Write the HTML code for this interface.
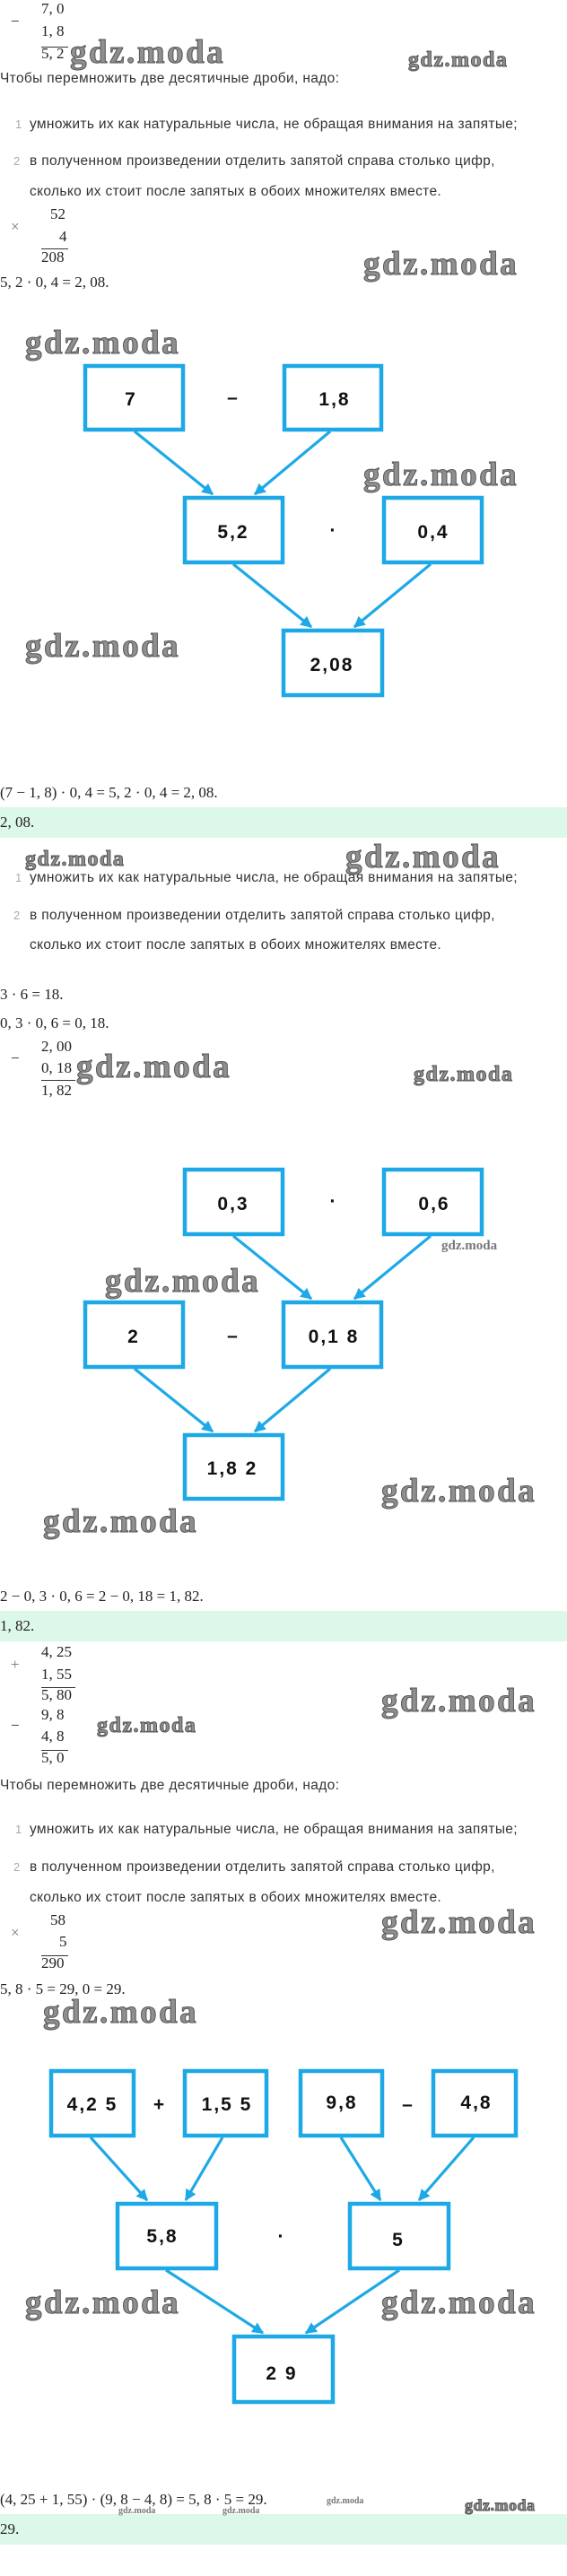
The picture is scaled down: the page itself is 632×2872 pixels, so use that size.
<!DOCTYPE html>
<html><head><meta charset="utf-8">
<style>
body{margin:0;width:632px;height:2872px;position:relative;background:#fff;overflow:hidden}
.t{position:absolute;white-space:nowrap;line-height:20px}
.m{font-family:"Liberation Serif",serif;font-size:17px;color:#222}
.s{font-family:"Liberation Sans",sans-serif;font-size:15.5px;color:#333;letter-spacing:0.35px}
.n{font-family:"Liberation Sans",sans-serif;font-size:13px;color:#aaa}
.w{position:absolute;white-space:nowrap;font-family:"Liberation Serif",serif;font-weight:bold;color:#8f8f8f;-webkit-text-stroke:1px #555;line-height:1}
.b{font-size:37px;letter-spacing:2.5px}.sm{font-size:24px;letter-spacing:1.5px}.xs{font-size:13px;-webkit-text-stroke:0;color:#777;letter-spacing:0}
.g{position:absolute;left:0;width:632px;height:34px;background:#dcf8e8}
svg{position:absolute;left:0;top:0}
.bx{font-family:"Liberation Sans",sans-serif;font-weight:bold;font-size:21px;fill:#111;letter-spacing:2px}
</style></head><body>
<div class="g" style="top:900px"></div>
<div class="g" style="top:1796px"></div>
<div class="g" style="top:2803px"></div>

<!-- section 1 -->
<div class="t m" style="left:12px;top:14px">−</div>
<div class="t m" style="left:46px;top:0px">7, 0</div>
<div class="t m" style="left:46px;top:25px">1, 8</div>
<div style="position:absolute;left:46px;top:52px;width:30px;border-top:1px solid #333"></div>
<div class="t m" style="left:46px;top:50px">5, 2</div>
<div class="w b" style="left:78px;top:40px">gdz.moda</div>
<div class="w sm" style="left:455px;top:55px">gdz.moda</div>
<div class="t s" style="left:0;top:78px">Чтобы перемножить две десятичные дроби, надо:</div>
<div class="t n" style="left:17px;top:129px">1</div>
<div class="t s" style="left:33px;top:129px">умножить их как натуральные числа, не обращая внимания на запятые;</div>
<div class="t n" style="left:15px;top:170px">2</div>
<div class="t s" style="left:33px;top:170px">в полученном произведении отделить запятой справа столько цифр,</div>
<div class="t s" style="left:33px;top:204px">сколько их стоит после запятых в обоих множителях вместе.</div>
<div class="t m" style="left:12px;top:243px;color:#777">×</div>
<div class="t m" style="left:56px;top:229px">52</div>
<div class="t m" style="left:66px;top:254px">4</div>
<div style="position:absolute;left:46px;top:277px;width:30px;border-top:1px solid #333"></div>
<div class="t m" style="left:46px;top:277px">208</div>
<div class="t m" style="left:0;top:305px">5, 2 · 0, 4 = 2, 08.</div>
<div class="w b" style="left:405px;top:276px">gdz.moda</div>
<div class="w b" style="left:28px;top:364px">gdz.moda</div>
<div class="w b" style="left:405px;top:511px">gdz.moda</div>
<div class="w b" style="left:28px;top:702px">gdz.moda</div>
<div class="t m" style="left:0;top:874px">(7 − 1, 8) · 0, 4 = 5, 2 · 0, 4 = 2, 08.</div>

<!-- section 2 -->
<div class="t m" style="left:0;top:907px">2, 08.</div>
<div class="w sm" style="left:28px;top:946px">gdz.moda</div>
<div class="w b" style="left:385px;top:937px">gdz.moda</div>
<div class="t n" style="left:17px;top:969px">1</div>
<div class="t s" style="left:33px;top:969px">умножить их как натуральные числа, не обращая внимания на запятые;</div>
<div class="t n" style="left:15px;top:1011px">2</div>
<div class="t s" style="left:33px;top:1011px">в полученном произведении отделить запятой справа столько цифр,</div>
<div class="t s" style="left:33px;top:1044px">сколько их стоит после запятых в обоих множителях вместе.</div>
<div class="t m" style="left:0;top:1099px">3 · 6 = 18.</div>
<div class="t m" style="left:0;top:1131px">0, 3 · 0, 6 = 0, 18.</div>
<div class="t m" style="left:12px;top:1170px">−</div>
<div class="t m" style="left:46px;top:1157px">2, 00</div>
<div class="t m" style="left:46px;top:1181px">0, 18</div>
<div style="position:absolute;left:46px;top:1204px;width:38px;border-top:1px solid #333"></div>
<div class="t m" style="left:46px;top:1206px">1, 82</div>
<div class="w b" style="left:85px;top:1171px">gdz.moda</div>
<div class="w sm" style="left:461px;top:1186px">gdz.moda</div>
<div class="w xs" style="left:492px;top:1382px;font-size:15px">gdz.moda</div>
<div class="w b" style="left:117px;top:1410px">gdz.moda</div>
<div class="w b" style="left:425px;top:1644px">gdz.moda</div>
<div class="w b" style="left:48px;top:1678px">gdz.moda</div>
<div class="t m" style="left:0;top:1770px">2 − 0, 3 · 0, 6 = 2 − 0, 18 = 1, 82.</div>
<div class="t m" style="left:0;top:1803px">1, 82.</div>
<div class="t m" style="left:12px;top:1846px;color:#777">+</div>
<div class="t m" style="left:46px;top:1832px">4, 25</div>
<div class="t m" style="left:46px;top:1857px">1, 55</div>
<div style="position:absolute;left:46px;top:1881px;width:38px;border-top:1px solid #333"></div>
<div class="t m" style="left:46px;top:1880px">5, 80</div>

<!-- section 3 -->
<div class="w b" style="left:425px;top:1878px">gdz.moda</div>
<div class="t m" style="left:12px;top:1914px">−</div>
<div class="t m" style="left:46px;top:1902px">9, 8</div>
<div class="t m" style="left:46px;top:1926px">4, 8</div>
<div style="position:absolute;left:46px;top:1951px;width:30px;border-top:1px solid #333"></div>
<div class="t m" style="left:46px;top:1950px">5, 0</div>
<div class="w sm" style="left:108px;top:1912px">gdz.moda</div>
<div class="t s" style="left:0;top:1981px">Чтобы перемножить две десятичные дроби, надо:</div>
<div class="t n" style="left:17px;top:2030px">1</div>
<div class="t s" style="left:33px;top:2030px">умножить их как натуральные числа, не обращая внимания на запятые;</div>
<div class="t n" style="left:15px;top:2072px">2</div>
<div class="t s" style="left:33px;top:2072px">в полученном произведении отделить запятой справа столько цифр,</div>
<div class="t s" style="left:33px;top:2106px">сколько их стоит после запятых в обоих множителях вместе.</div>
<div class="t m" style="left:12px;top:2145px;color:#777">×</div>
<div class="t m" style="left:56px;top:2131px">58</div>
<div class="t m" style="left:66px;top:2155px">5</div>
<div style="position:absolute;left:46px;top:2180px;width:30px;border-top:1px solid #333"></div>
<div class="t m" style="left:46px;top:2179px">290</div>
<div class="t m" style="left:0;top:2208px">5, 8 · 5 = 29, 0 = 29.</div>
<div class="w b" style="left:425px;top:2125px">gdz.moda</div>
<div class="w b" style="left:48px;top:2225px">gdz.moda</div>
<div class="w b" style="left:28px;top:2549px">gdz.moda</div>
<div class="w b" style="left:425px;top:2549px">gdz.moda</div>
<div class="t m" style="left:0;top:2777px">(4, 25 + 1, 55) · (9, 8 − 4, 8) = 5, 8 · 5 = 29.</div>
<div class="w xs" style="left:364px;top:2784px;font-size:10px">gdz.moda</div>
<div class="w xs" style="left:132px;top:2795px;font-size:10px">gdz.moda</div>
<div class="w xs" style="left:248px;top:2795px;font-size:10px">gdz.moda</div>
<div class="w sm" style="left:518px;top:2784px;font-size:18px;letter-spacing:0.5px">gdz.moda</div>
<div class="t m" style="left:0;top:2810px">29.</div>

<svg width="632" height="2872">
<defs><marker id="a" viewBox="0 0 10 10" refX="9" refY="5" markerWidth="4" markerHeight="4" orient="auto"><path d="M0,0L10,5L0,10z" fill="#1ea9e6"/></marker></defs>
<g fill="none" stroke="#1ea9e6" stroke-width="4.5">
<rect x="95" y="408" width="109" height="71"/><rect x="317" y="408" width="108" height="71"/>
<rect x="206" y="555" width="109" height="72"/><rect x="428" y="555" width="109" height="72"/>
<rect x="316" y="703" width="110" height="72"/>
<rect x="206" y="1304" width="109" height="72"/><rect x="428" y="1304" width="109" height="72"/>
<rect x="95" y="1452" width="109" height="72"/><rect x="316" y="1452" width="109" height="72"/>
<rect x="206" y="1600" width="109" height="71"/>
<rect x="57" y="2309" width="92" height="72"/><rect x="206" y="2309" width="91" height="72"/>
<rect x="335" y="2309" width="91" height="72"/><rect x="483" y="2309" width="92" height="72"/>
<rect x="131" y="2457" width="110" height="72"/><rect x="390" y="2457" width="110" height="72"/>
<rect x="261" y="2605" width="110" height="73"/>
</g>
<g stroke="#1ea9e6" stroke-width="3.2" marker-end="url(#a)">
<line x1="150" y1="481" x2="237" y2="551"/><line x1="368" y1="481" x2="284" y2="551"/>
<line x1="260" y1="629" x2="347" y2="699"/><line x1="480" y1="629" x2="395" y2="699"/>
<line x1="260" y1="1378" x2="347" y2="1448"/><line x1="480" y1="1378" x2="395" y2="1448"/>
<line x1="150" y1="1526" x2="237" y2="1596"/><line x1="368" y1="1526" x2="284" y2="1596"/>
<line x1="101" y1="2383" x2="164" y2="2453"/><line x1="248" y1="2383" x2="207" y2="2453"/>
<line x1="380" y1="2383" x2="424" y2="2453"/><line x1="528" y1="2383" x2="467" y2="2453"/>
<line x1="185" y1="2531" x2="293" y2="2601"/><line x1="445" y1="2531" x2="341" y2="2601"/>
</g>
<g class="bx" text-anchor="middle">
<text x="146" y="452">7</text><text x="373" y="452">1,8</text><text x="260" y="450">–</text>
<text x="260" y="600">5,2</text><text x="372" y="598">·</text><text x="483" y="600">0,4</text>
<text x="370" y="748">2,08</text>
<text x="260" y="1349">0,3</text><text x="372" y="1346">·</text><text x="484" y="1349">0,6</text>
<text x="149" y="1497">2</text><text x="260" y="1496">–</text><text x="372" y="1497">0,1 8</text>
<text x="259" y="1644">1,8 2</text>
<text x="103" y="2353">4,2 5</text><text x="178" y="2353">+</text><text x="253" y="2353">1,5 5</text>
<text x="381" y="2351">9,8</text><text x="455" y="2353">–</text><text x="531" y="2351">4,8</text>
<text x="181" y="2500">5,8</text><text x="314" y="2500">·</text><text x="444" y="2504">5</text>
<text x="314" y="2653">2 9</text>
</g>
</svg>
</body></html>
